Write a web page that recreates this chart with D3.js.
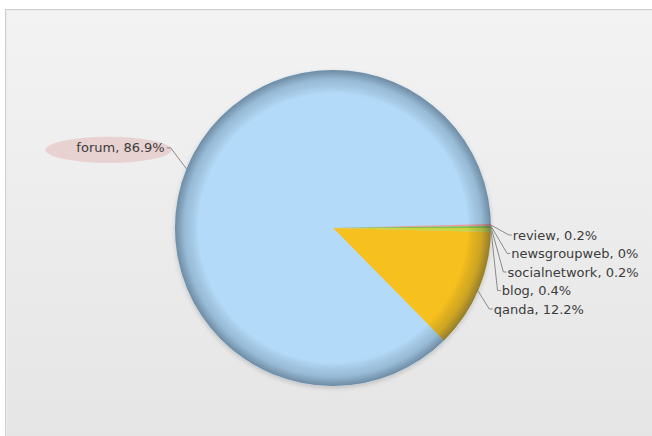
<!DOCTYPE html>
<html>
<head>
<meta charset="utf-8">
<script src="https://cdn.jsdelivr.net/npm/d3@7"></script>
<style>
  html, body { margin: 0; padding: 0; background: #ffffff; }
  svg { display: block; }
  text { font-family: "DejaVu Sans", Verdana, sans-serif; font-size: 13px; fill: #3c3c3c; }
</style>
</head>
<body>
<svg id="chart" width="652" height="436"></svg>
<script>
// Share of mentions by source type (percent), in clockwise drawing order from 3 o'clock
const categories = ["blog", "qanda", "forum", "review", "newsgroupweb", "socialnetwork"];
const values     = [0.4, 12.2, 86.9, 0.2, 0, 0.2];
const colors     = ["#c8d640", "#f6c01e", "#b3daf8", "#ee9a9a", "#9aa8e0", "#84bf4a"];

const W = 652, H = 436;
const svg = d3.select("#chart");
const defs = svg.append("defs");

// panel background
const bg = defs.append("linearGradient").attr("id", "panelBg")
  .attr("x1", 0).attr("y1", 0).attr("x2", 0).attr("y2", 1);
bg.append("stop").attr("offset", "0%").attr("stop-color", "#f3f3f3");
bg.append("stop").attr("offset", "100%").attr("stop-color", "#e5e5e5");

svg.append("rect").attr("x", 5.5).attr("y", 9.5).attr("width", W).attr("height", H)
  .attr("fill", "url(#panelBg)").attr("stroke", "#cfcfcf").attr("stroke-width", 1);
svg.append("rect").attr("x", 6.5).attr("y", 10.5).attr("width", W).attr("height", H)
  .attr("fill", "none").attr("stroke", "#ececec").attr("stroke-width", 1);

const cx = 333, cy = 228, r = 158;

// darkened rim over all slices
const rim = defs.append("radialGradient").attr("id", "rimShade")
  .attr("gradientUnits", "userSpaceOnUse")
  .attr("cx", cx).attr("cy", cy).attr("r", r);
rim.append("stop").attr("offset", "0%").attr("stop-color", "#000").attr("stop-opacity", 0);
rim.append("stop").attr("offset", "85%").attr("stop-color", "#000").attr("stop-opacity", 0);
rim.append("stop").attr("offset", "94%").attr("stop-color", "#1a2a3a").attr("stop-opacity", 0.18);
rim.append("stop").attr("offset", "100%").attr("stop-color", "#1a2a3a").attr("stop-opacity", 0.45);

const shadow = defs.append("filter").attr("id", "pieShadow")
  .attr("x", "-20%").attr("y", "-20%").attr("width", "140%").attr("height", "140%");
shadow.append("feGaussianBlur").attr("in", "SourceAlpha").attr("stdDeviation", 2.5).attr("result", "b");
shadow.append("feOffset").attr("in", "b").attr("dx", 0).attr("dy", 2).attr("result", "o");
shadow.append("feComponentTransfer").attr("in", "o").attr("result", "s")
  .append("feFuncA").attr("type", "linear").attr("slope", 0.18);
const m = shadow.append("feMerge");
m.append("feMergeNode").attr("in", "s");
m.append("feMergeNode").attr("in", "SourceGraphic");

const data = categories.map((c, i) => ({ name: c, value: values[i], color: colors[i] }));

const pie = d3.pie().sort(null).value(d => d.value)
  .startAngle(Math.PI / 2).endAngle(Math.PI / 2 + 2 * Math.PI);
const arcs = pie(data);
const arc = d3.arc().innerRadius(0).outerRadius(r);

const g = svg.append("g").attr("transform", `translate(${cx},${cy})`);
g.append("circle").attr("r", r).attr("fill", "#b3daf8").attr("filter", "url(#pieShadow)");
g.selectAll("path.slice").data(arcs).join("path").attr("class", "slice")
  .attr("d", arc).attr("fill", d => d.data.color);
g.append("circle").attr("r", r).attr("fill", "url(#rimShade)")
  .attr("transform", `translate(${-cx},${-cy})`).attr("cx", cx).attr("cy", cy);

// labels
const fmt = d => `${d.data.name}, ${d3.format(".1~f")(d.data.value)}%`;
const mid = d => (d.startAngle + d.endAngle) / 2;
const pt = (a, rad) => [Math.sin(a) * rad, -Math.cos(a) * rad];

const labelR = 180, elbowR = 176, step = 18.5;
const right = arcs.filter(d => Math.sin(mid(d)) > 0)
  .sort((a, b) => pt(mid(a), r)[1] - pt(mid(b), r)[1]);
const left = arcs.filter(d => Math.sin(mid(d)) <= 0);

const lab = svg.append("g").attr("transform", `translate(${cx},${cy})`);

right.forEach((d, i) => {
  const p = pt(mid(d), r);
  const dy = 7 + i * step;
  const ex = Math.sqrt(elbowR * elbowR - dy * dy);
  const tx = Math.sqrt(labelR * labelR - dy * dy);
  lab.append("polyline")
    .attr("points", [p, [ex, dy], [tx - 1, dy]].map(q => q.join(",")).join(" "))
    .attr("fill", "none").attr("stroke", "#8a8a8a").attr("stroke-width", 1);
  lab.append("text").attr("x", tx).attr("y", dy).attr("dy", "0.35em").text(fmt(d));
});

left.forEach(d => {
  const p = pt(mid(d), r);
  const ny = pt(mid(d), r + 24)[1] - 12;
  const ex = -Math.sqrt(181 * 181 - ny * ny);
  const tx = ex - 6;
  const t = lab.append("text").attr("x", tx).attr("y", ny).attr("dy", "0.35em")
    .attr("text-anchor", "end").text(fmt(d));
  const w = t.node().getComputedTextLength();
  lab.insert("ellipse", "text")
    .attr("cx", tx - w / 2 - 12).attr("cy", ny + 2)
    .attr("rx", w / 2 + 19).attr("ry", 13)
    .attr("fill", "#e6c4c4").attr("opacity", 0.7);
  lab.append("polyline")
    .attr("points", [p, [ex, ny], [tx + 2, ny]].map(q => q.join(",")).join(" "))
    .attr("fill", "none").attr("stroke", "#8a8a8a").attr("stroke-width", 1);
});
</script>
</body>
</html>
